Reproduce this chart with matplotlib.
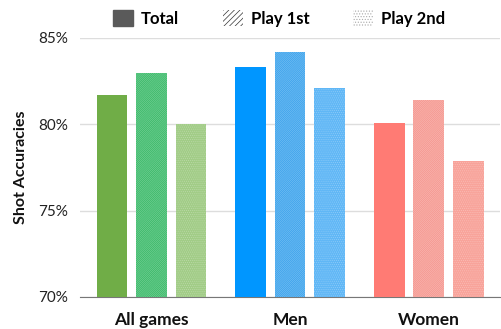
import matplotlib
matplotlib.use("Agg")
import matplotlib.pyplot as plt
import numpy as np
from matplotlib.patches import Patch

plt.rcParams['font.family'] = ['Lato', 'DejaVu Sans']
plt.rcParams['hatch.linewidth'] = 0.5

categories = ["All games", "Men", "Women"]
series = ["Total", "Play 1st", "Play 2nd"]
total = [81.7, 83.3, 80.1]
play1st = [83.0, 84.2, 81.4]
play2nd = [80.0, 82.1, 77.9]
yticks = [70, 75, 80, 85]
ytick_labels = ["70%", "75%", "80%", "85%"]

colors = {
    "Total": ["#70AD47", "#0096FF", "#FF7B74"],
    "Play 1st": ["#38B967", "#3AA2EC", "#F5968E"],
    "Play 2nd": ["#A1CC86", "#60B7F6", "#F8A39A"],
}
hatches = {"Total": None, "Play 1st": "/" * 16, "Play 2nd": "." * 8}
hatch_edge = {"Total": "none", "Play 1st": (1, 1, 1, 0.3), "Play 2nd": (1, 1, 1, 0.25)}

fig = plt.figure(figsize=(5.01, 3.29), dpi=100)
ax = fig.add_axes([0.16, 0.0973, 0.838, 0.7872])

x = np.arange(len(categories))
w = 0.222
step = 0.285
for i, (name, vals) in enumerate(zip(series, [total, play1st, play2nd])):
    pos = x + (i - 1) * step
    ax.bar(pos, np.array(vals) - 70, bottom=70, width=w,
           color=colors[name], edgecolor=hatch_edge[name],
           linewidth=0, hatch=hatches[name], zorder=3)

ax.set_ylim(70, 85)
ax.set_xlim(-0.515, 2.515)
ax.set_yticks(yticks)
ax.set_yticklabels(ytick_labels, fontsize=11, color="#222222")
ax.set_xticks(x)
ax.set_xticklabels(categories, fontsize=12.5, fontweight="bold", color="#111111")
ax.set_ylabel("Shot Accuracies", fontsize=11.5, fontweight="bold", color="#111111", labelpad=7)
ax.grid(axis="y", color="#DDDDDD", linewidth=1, zorder=0)
for s in ["top", "right", "left"]:
    ax.spines[s].set_visible(False)
ax.spines["bottom"].set_color("#777777")
ax.tick_params(axis="y", length=0, pad=9)
ax.tick_params(axis="x", length=0, pad=11)

handles = [
    Patch(facecolor="#5A5A5A", edgecolor="#5A5A5A", label="Total"),
    Patch(facecolor="white", edgecolor="#333333", hatch="//////", linewidth=0, label="Play 1st"),
    Patch(facecolor="white", edgecolor="#AAAAAA", hatch="......", linewidth=0, label="Play 2nd"),
]
fig.legend(handles=handles, loc="upper center", bbox_to_anchor=(0.557, 1.015), ncol=3,
           frameon=False, handlelength=1.2, handleheight=1.1,
           columnspacing=2.6, handletextpad=0.5,
           prop={"weight": "bold", "size": 12})

fig.savefig("out.png", dpi=100)
